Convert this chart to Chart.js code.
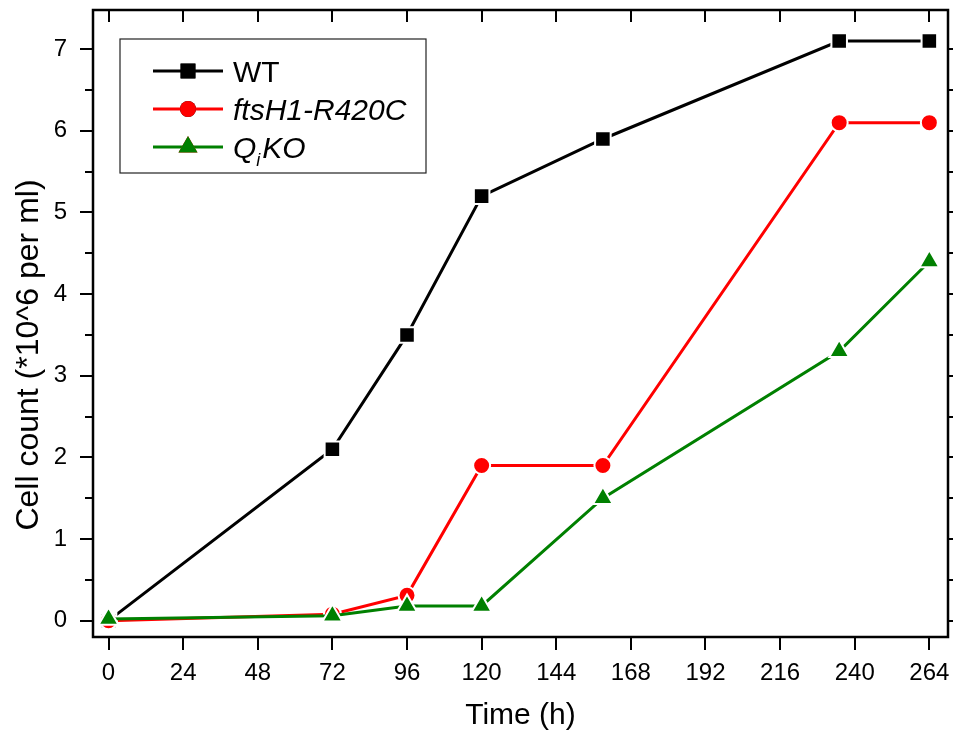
<!DOCTYPE html>
<html>
<head>
<meta charset="utf-8">
<script src="https://cdn.jsdelivr.net/npm/chart.js@4"></script>
<style>
  html, body { margin:0; padding:0; background:#fff; }
  #wrap { width:953px; height:736px; position:relative; }
</style>
</head>
<body>
<div id="wrap"><canvas id="grafico"></canvas></div>
<script>
const FONT = '"Liberation Sans", Arial, Helvetica, sans-serif';

const horas   = [0, 72, 96, 120, 159, 235, 264];
const wt      = [0, 2.1, 3.5, 5.2, 5.9, 7.1, 7.1];
const ftsH1   = [0, 0.08, 0.31, 1.9, 1.9, 6.1, 6.1];
const qko     = [0.02, 0.06, 0.18, 0.18, 1.5, 3.3, 4.4];
const xTicks  = [0, 24, 48, 72, 96, 120, 144, 168, 192, 216, 240, 264];
const yTicks  = [0, 1, 2, 3, 4, 5, 6, 7];

const pts = vals => horas.map((h, i) => ({ x: h, y: vals[i] }));

const series = [
    { label:'WT',          data:wt,    cor:'#000000', estilo:'rect',     raio:11,   ordem:2 },
    { label:'ftsH1-R420C', data:ftsH1, cor:'#ff0000', estilo:'circle',   raio:8.5,  ordem:1 },
    { label:'QiKO',        data:qko,   cor:'#008000', estilo:'triangle', raio:11.5, ordem:0 },
];

// moldura, marcas dos eixos, título do eixo y e legenda
const molduraPlugin = {
    id: 'moldura',
    afterDraw(chart) {
        const { ctx, chartArea: a, scales: { x, y } } = chart;
        ctx.save();
        ctx.strokeStyle = '#000';
        ctx.lineWidth = 2.5;
        ctx.strokeRect(a.left, a.top, a.right - a.left, a.bottom - a.top);

        ctx.lineWidth = 2;
        ctx.beginPath();
        xTicks.forEach(v => {
            const px = Math.round(x.getPixelForValue(v));
            ctx.moveTo(px, a.bottom); ctx.lineTo(px, a.bottom + 13);
            ctx.moveTo(px, a.top);    ctx.lineTo(px, a.top + 12);
        });
        for (let v = 0; v <= 7.01; v += 0.5) {
            const py = Math.round(y.getPixelForValue(v));
            const len = Number.isInteger(v) ? 13 : 8;
            ctx.moveTo(a.left, py);  ctx.lineTo(a.left - len, py);
            ctx.moveTo(a.right, py); ctx.lineTo(a.right + 6, py);
        }
        ctx.stroke();

        // título do eixo y
        ctx.save();
        ctx.translate(29, 355);
        ctx.rotate(-Math.PI / 2);
        ctx.fillStyle = '#000';
        ctx.font = '32px ' + FONT;
        ctx.textAlign = 'center';
        ctx.textBaseline = 'middle';
        ctx.fillText('Cell count (*10^6 per ml)', 0, 0);
        ctx.restore();

        // legenda
        ctx.lineWidth = 1.2;
        ctx.strokeStyle = '#222';
        ctx.strokeRect(120, 39, 306, 134);
        const linhas = [71, 109, 147];
        series.forEach((s, i) => {
            const yy = linhas[i];
            ctx.strokeStyle = s.cor;
            ctx.lineWidth = 3;
            ctx.beginPath(); ctx.moveTo(153, yy); ctx.lineTo(223, yy); ctx.stroke();
            Chart.helpers.drawPoint(ctx, { pointStyle: s.estilo, radius: s.raio - 0.5, rotation: 0, borderWidth: 0 }, 188, yy);
            ctx.fillStyle = s.cor;
            ctx.fill();
        });
        ctx.fillStyle = '#000';
        ctx.textBaseline = 'alphabetic';
        ctx.font = '30px ' + FONT;
        ctx.fillText('WT', 233, 82);
        ctx.font = 'italic 30px ' + FONT;
        ctx.fillText('ftsH1-R420C', 233, 120);
        ctx.fillText('Q', 233, 158);
        const qW = ctx.measureText('Q').width;
        ctx.font = 'italic 18px ' + FONT;
        ctx.fillText('i', 233 + qW, 166);
        const iW = ctx.measureText('i').width;
        ctx.font = 'italic 30px ' + FONT;
        ctx.fillText('KO', 233 + qW + iW + 2, 158);
        ctx.restore();
    }
};

new Chart(document.getElementById('grafico'), {
    type: 'line',
    data: {
        datasets: series.map(s => ({
            label           : s.label,
            data            : pts(s.data),
            borderColor     : s.cor,
            backgroundColor : s.cor,
            borderWidth     : 3,
            pointStyle      : s.estilo,
            pointRadius     : s.raio,
            pointBackgroundColor: s.cor,
            pointBorderColor: '#fff',
            pointBorderWidth: 2,
            order           : s.ordem,
            tension         : 0,
        }))
    },
    options: {
        responsive: true,
        maintainAspectRatio: false,
        animation: false,
        layout: { autoPadding:false, padding: { top:10, right:5, left:0, bottom:0 } },
        plugins: { legend:{ display:false }, tooltip:{ enabled:false } },
        scales: {
            x: {
                type: 'linear',
                min: -5, max: 270,
                afterFit: s => { s.height = 99; s.paddingLeft = 0; s.paddingRight = 0; },
                afterBuildTicks: s => { s.ticks = xTicks.map(v => ({ value:v })); },
                grid: { display:false },
                border: { display:false },
                ticks: { color:'#000', padding:14, font:{ family:FONT, size:24 }, maxRotation:0 },
                title: { display:true, text:'Time (h)', color:'#000',
                         font:{ family:FONT, size:30, lineHeight:1.2 }, padding:{ top:0, bottom:2 } }
            },
            y: {
                min: -0.2, max: 7.48,
                afterFit: s => { s.width = 93; s.paddingTop = 0; s.paddingBottom = 0; },
                afterBuildTicks: s => { s.ticks = yTicks.map(v => ({ value:v })); },
                grid: { display:false },
                border: { display:false },
                ticks: { color:'#000', padding:18, font:{ family:FONT, size:24 } },
                title: { display:false }
            }
        }
    },
    plugins: [molduraPlugin]
});
</script>
</body>
</html>
